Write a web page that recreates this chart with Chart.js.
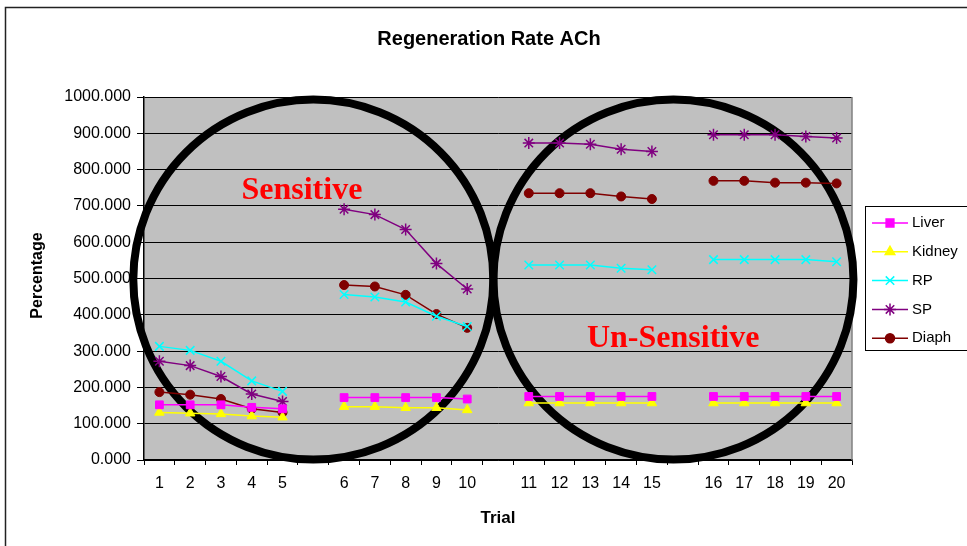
<!DOCTYPE html>
<html>
<head>
<meta charset="utf-8">
<script src="https://cdn.jsdelivr.net/npm/chart.js@4/dist/chart.umd.min.js"></script>
<style>
html,body{margin:0;padding:0;background:#fff;}
#wrap{width:967px;height:546px;position:relative;}
</style>
</head>
<body>
<div id="wrap"><canvas id="c" width="967" height="546"></canvas></div>
<script>
// ---- data ----
const categories = ['1','2','3','4','5','','6','7','8','9','10','','11','12','13','14','15','','16','17','18','19','20'];
const seriesNames = ['Liver','Kidney','RP','SP','Diaph'];
const liver  = [152,152,152,145,141,null,172,172,172,172,168,null,175,175,175,175,175,null,175,175,175,175,175];
const kidney = [131,129,127,121,118,null,147,147,144,144,138,null,157,157,157,157,157,null,157,157,157,157,157];
const rp     = [313,302,272,218,189,null,456,449,435,396,368,null,537,537,537,528,524,null,552,552,552,552,546];
const sp     = [272,260,230,182,161,null,691,676,635,541,471,null,873,873,870,856,850,null,896,896,896,891,887];
const diaph  = [187,180,168,141,131,null,482,478,455,402,364,null,735,735,735,726,719,null,769,769,764,764,762];
const yTicks = [0,100,200,300,400,500,600,700,800,900,1000];
const chartTitle = 'Regeneration Rate ACh';
const xTitle = 'Trial';
const yTitle = 'Percentage';
// annotation circles: centre in (category index, value)
const circles = [{x:5.0, y:497}, {x:16.7, y:497}];
const notes = [{text:'Sensitive', x:4.63, y:718}, {text:'Un-Sensitive', x:16.69, y:312}];

const colors = ['#FF00FF','#FFFF00','#00FFFF','#800080','#800000'];
const styles = ['rect','triangle','crossRot','star','circle'];
const radii  = [5.5,5.5,6,6,4.5];
const values = [liver,kidney,rp,sp,diaph];

const FONT = '"Liberation Sans", Arial, sans-serif';

const datasets = seriesNames.map((n,i)=>({
  label:n, data:values[i],
  borderColor:colors[i], backgroundColor:colors[i],
  pointBorderColor:colors[i], pointBackgroundColor:colors[i],
  pointStyle:styles[i], pointRadius:radii[i], pointBorderWidth:(styles[i]==='crossRot'||styles[i]==='star')?1.5:1,
  borderWidth:1.5, tension:0, spanGaps:false, fill:false
}));

function drawMarker(ctx, style, x, y, r, color, bw){
  ctx.save();
  ctx.fillStyle=color; ctx.strokeStyle=color; ctx.lineWidth=bw;
  if (Chart.helpers && Chart.helpers.drawPoint){
    Chart.helpers.drawPoint(ctx,{pointStyle:style,radius:r,rotation:0,borderWidth:bw},x,y);
    ctx.restore(); return;
  }
  ctx.beginPath();
  if(style==='circle'){ctx.arc(x,y,r,0,Math.PI*2);ctx.fill();}
  else if(style==='rect'){const s=r*Math.SQRT1_2;ctx.fillRect(x-s,y-s,2*s,2*s);}
  else if(style==='triangle'){ctx.moveTo(x,y-r);ctx.lineTo(x+r*0.866,y+r/2);ctx.lineTo(x-r*0.866,y+r/2);ctx.closePath();ctx.fill();}
  else { const s=r*Math.SQRT1_2; ctx.moveTo(x-s,y-s);ctx.lineTo(x+s,y+s);ctx.moveTo(x+s,y-s);ctx.lineTo(x-s,y+s);
    if(style==='star'){ctx.moveTo(x,y-r);ctx.lineTo(x,y+r);ctx.moveTo(x-r,y);ctx.lineTo(x+r,y);} ctx.stroke();}
  ctx.restore();
}

const decor = {
  id:'decor',
  beforeDraw(chart){
    const {ctx, chartArea:a} = chart;
    ctx.save();
    ctx.fillStyle='#fff'; ctx.fillRect(0,0,chart.width,chart.height);
    ctx.strokeStyle='#222'; ctx.lineWidth=1.5;
    ctx.strokeRect(5.5,7.5,chart.width+20,chart.height+20);
    ctx.fillStyle='#C0C0C0'; ctx.fillRect(a.left,a.top,a.right-a.left,a.bottom-a.top);
    ctx.restore();
  },
  beforeDatasetsDraw(chart){
    const {ctx, chartArea:a, scales:{x,y}} = chart;
    ctx.save();
    ctx.strokeStyle='#808080'; ctx.lineWidth=1.5;
    ctx.beginPath(); ctx.moveTo(a.right,a.top); ctx.lineTo(a.right,a.bottom); ctx.stroke();
    const r = (a.bottom-a.top)/2 - 1.5;
    ctx.strokeStyle='#000'; ctx.lineWidth=8;
    circles.forEach(c=>{
      ctx.beginPath(); ctx.arc(x.getPixelForValue(c.x), y.getPixelForValue(c.y), r, 0, Math.PI*2); ctx.stroke();
    });
    ctx.fillStyle='#FF0000'; ctx.font='bold 32px "Liberation Serif", "Times New Roman", serif';
    ctx.textAlign='center'; ctx.textBaseline='alphabetic';
    notes.forEach(n=>{ ctx.fillText(n.text, x.getPixelForValue(n.x), y.getPixelForValue(n.y)); });
    ctx.restore();
  },
  afterDraw(chart){
    const {ctx, chartArea:a} = chart;
    ctx.save();
    ctx.fillStyle='#000';
    ctx.textAlign='center'; ctx.textBaseline='middle';
    ctx.font='bold 20px '+FONT;
    ctx.fillText(chartTitle,(a.left+a.right)/2-9,39);
    ctx.font='bold 17px '+FONT;
    ctx.fillText(xTitle,(a.left+a.right)/2,518);
    ctx.save(); ctx.translate(38,(a.top+a.bottom)/2-3); ctx.rotate(-Math.PI/2);
    ctx.font='bold 16px '+FONT; ctx.fillText(yTitle,0,0); ctx.restore();
    // legend
    const lx=865.5, ly=206.5;
    ctx.fillStyle='#fff'; ctx.fillRect(lx,ly,110,144);
    ctx.strokeStyle='#000'; ctx.lineWidth=1; ctx.strokeRect(lx,ly,110,144);
    ctx.font='15px '+FONT; ctx.textAlign='left'; ctx.textBaseline='middle';
    seriesNames.forEach((n,i)=>{
      const yy = 223 + i*28.8;
      ctx.strokeStyle=colors[i]; ctx.lineWidth=1.5;
      ctx.beginPath(); ctx.moveTo(872,yy); ctx.lineTo(908,yy); ctx.stroke();
      drawMarker(ctx, styles[i], 890, yy, radii[i], colors[i], 1.5);
      ctx.fillStyle='#000'; ctx.fillText(n, 912, yy);
    });
    ctx.restore();
  }
};

new Chart(document.getElementById('c'),{
  type:'line',
  data:{labels:categories, datasets},
  options:{
    responsive:false, animation:false, devicePixelRatio:1,
    layout:{padding:{top:97,right:115,left:0,bottom:0}},
    plugins:{legend:{display:false}, title:{display:false}, tooltip:{enabled:false}},
    scales:{
      x:{
        offset:true,
        grid:{offset:true, drawOnChartArea:false, drawTicks:true, tickLength:5, color:'#000', lineWidth:1},
        border:{display:true, color:'#000', width:1.5},
        ticks:{autoSkip:false, maxRotation:0, minRotation:0, padding:9, color:'#000', font:{family:FONT,size:16}},
        afterFit(s){ s.height = 546-460; }
      },
      y:{
        min:0, max:1000,
        afterBuildTicks(s){ s.ticks = yTicks.map(v=>({value:v})); },
        grid:{color:'#000', lineWidth:1, tickLength:7, drawTicks:true},
        border:{display:true, color:'#000', width:1.5},
        ticks:{padding:6, color:'#000', font:{family:FONT,size:16}, callback:v=>Number(v).toFixed(3)},
        afterFit(s){ s.width = 144; }
      }
    }
  },
  plugins:[decor]
});
</script>
</body>
</html>
